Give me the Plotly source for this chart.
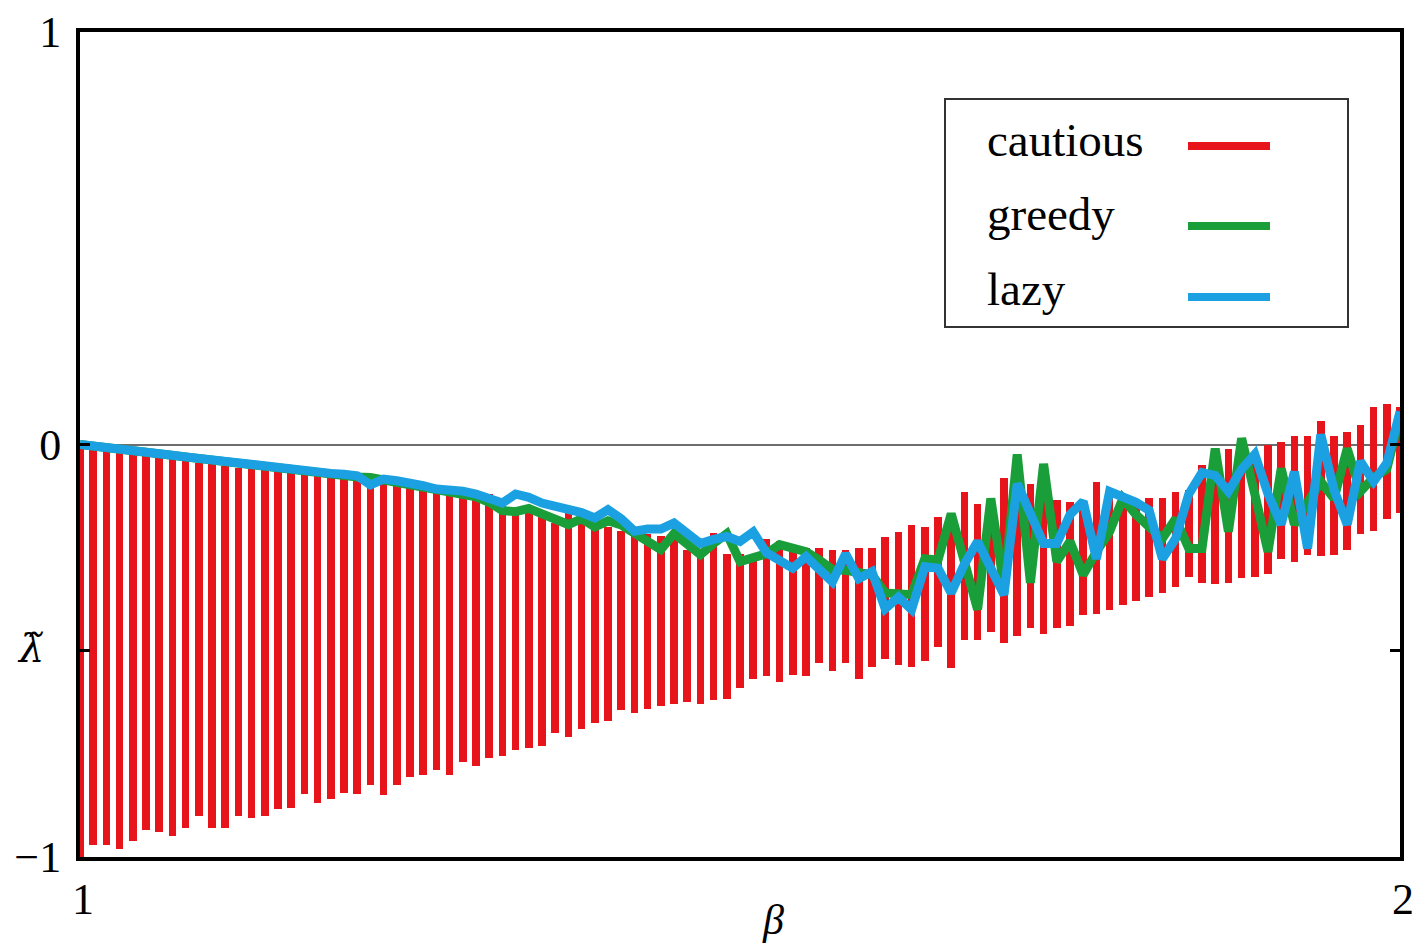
import plotly.graph_objects as go

# beta grid: 1.00 .. 2.00 step 0.01
beta = [round(1 + k / 100, 2) for k in range(101)]

# lazy (blue) line
lazy = [0.0, -0.003, -0.006, -0.010, -0.014, -0.018, -0.022, -0.026, -0.030, -0.034,
        -0.038, -0.042, -0.046, -0.050, -0.053, -0.057, -0.060, -0.064, -0.067, -0.070,
        -0.072, -0.076, -0.098, -0.084, -0.088, -0.092, -0.100, -0.108, -0.110, -0.113,
        -0.120, -0.130, -0.142, -0.120, -0.128, -0.142, -0.148, -0.156, -0.165, -0.178,
        -0.158, -0.180, -0.210, -0.205, -0.205, -0.190, -0.215, -0.240, -0.230, -0.223,
        -0.235, -0.212, -0.262, -0.280, -0.300, -0.272, -0.300, -0.333, -0.265, -0.325,
        -0.308, -0.398, -0.370, -0.400, -0.296, -0.300, -0.360, -0.290, -0.235, -0.300,
        -0.364, -0.095, -0.170, -0.240, -0.240, -0.170, -0.138, -0.277, -0.114, -0.125,
        -0.140, -0.160, -0.277, -0.228, -0.120, -0.068, -0.075, -0.114, -0.060, -0.024,
        -0.120, -0.194, -0.066, -0.252, 0.024, -0.110, -0.194, -0.041, -0.090, -0.045,
        0.080]

# greedy (green) line
greedy = [0.0, -0.004, -0.008, -0.012, -0.016, -0.020, -0.024, -0.028, -0.032, -0.036,
          -0.040, -0.044, -0.048, -0.052, -0.056, -0.060, -0.063, -0.066, -0.070, -0.073,
          -0.076, -0.079, -0.080, -0.086, -0.092, -0.096, -0.102, -0.108, -0.113, -0.120,
          -0.127, -0.140, -0.160, -0.163, -0.155, -0.168, -0.180, -0.194, -0.180, -0.200,
          -0.185, -0.195, -0.215, -0.235, -0.255, -0.216, -0.240, -0.267, -0.240, -0.216,
          -0.284, -0.277, -0.265, -0.243, -0.250, -0.260, -0.280, -0.303, -0.305, -0.310,
          -0.316, -0.360, -0.362, -0.364, -0.277, -0.280, -0.168, -0.290, -0.400, -0.131,
          -0.345, -0.024, -0.335, -0.047, -0.284, -0.235, -0.316, -0.260, -0.211, -0.131,
          -0.170, -0.200, -0.228, -0.180, -0.252, -0.252, -0.010, -0.211, 0.015, -0.120,
          -0.260, -0.058, -0.194, -0.140, -0.090, -0.131, -0.010, -0.114, -0.080, -0.060,
          0.072]

# cautious (red) : range of values in each column
cautious_top = [0.0, -0.012, -0.016, -0.020, -0.024, -0.028, -0.032, -0.036, -0.040, -0.044,
                -0.048, -0.052, -0.056, -0.060, -0.063, -0.067, -0.070, -0.074, -0.077, -0.080,
                -0.083, -0.087, -0.090, -0.094, -0.097, -0.100, -0.105, -0.110, -0.115, -0.118,
                -0.125, -0.120, -0.145, -0.155, -0.160, -0.170, -0.190, -0.165, -0.180, -0.200,
                -0.200, -0.210, -0.220, -0.218, -0.222, -0.228, -0.255, -0.265, -0.215, -0.265,
                -0.265, -0.280, -0.230, -0.235, -0.250, -0.250, -0.252, -0.255, -0.255, -0.250,
                -0.252, -0.225, -0.213, -0.195, -0.200, -0.175, -0.175, -0.115, -0.145, -0.155,
                -0.082, -0.130, -0.095, -0.130, -0.134, -0.140, -0.145, -0.090, -0.130, -0.138,
                -0.138, -0.130, -0.130, -0.114, -0.110, -0.049, -0.060, -0.012, -0.010, -0.030,
                0.000, 0.007, 0.020, 0.020, 0.056, 0.020, 0.030, 0.048, 0.092, 0.097,
                0.090]
cautious_bottom = [-1.000, -0.970, -0.970, -0.980, -0.960, -0.935, -0.940, -0.950, -0.930, -0.900,
                   -0.930, -0.930, -0.900, -0.905, -0.900, -0.883, -0.880, -0.847, -0.870, -0.860,
                   -0.845, -0.847, -0.825, -0.850, -0.825, -0.806, -0.800, -0.790, -0.800, -0.770,
                   -0.780, -0.760, -0.755, -0.740, -0.735, -0.730, -0.700, -0.710, -0.690, -0.675,
                   -0.670, -0.643, -0.650, -0.640, -0.633, -0.630, -0.625, -0.630, -0.620, -0.616,
                   -0.590, -0.568, -0.560, -0.575, -0.558, -0.560, -0.530, -0.550, -0.530, -0.568,
                   -0.540, -0.519, -0.535, -0.540, -0.525, -0.490, -0.543, -0.473, -0.473, -0.455,
                   -0.480, -0.465, -0.445, -0.460, -0.445, -0.440, -0.413, -0.410, -0.400, -0.390,
                   -0.380, -0.370, -0.360, -0.345, -0.320, -0.335, -0.337, -0.335, -0.323, -0.320,
                   -0.313, -0.277, -0.285, -0.267, -0.270, -0.268, -0.255, -0.218, -0.210, -0.180,
                   -0.167]

legend_names = ["cautious", "greedy", "lazy"]
RED, GREEN, BLUE = "#e8141c", "#1a9e3a", "#1ba1e2"
legend_colors = [RED, GREEN, BLUE]

x_ticks = [1, 2]
x_ticktext = ["1", "2"]
y_ticks = [-1, -0.5, 0, 1]
y_ticktext = ["\u22121", "", "0", "1"]

FONT = "Liberation Serif"

fig = go.Figure()
fig.add_trace(go.Bar(
    x=beta,
    y=[t - b for t, b in zip(cautious_top, cautious_bottom)],
    base=cautious_bottom,
    width=0.0058,
    marker=dict(color=RED, line=dict(width=0)),
    name="cautious",
    showlegend=False,
))
fig.add_trace(go.Scatter(x=beta, y=greedy, mode="lines", name="greedy",
                         line=dict(color=GREEN, width=9), showlegend=False))
fig.add_trace(go.Scatter(x=beta, y=lazy, mode="lines", name="lazy",
                         line=dict(color=BLUE, width=9), showlegend=False))

# the page body adds an 8px offset; compensate so the plot lands where the reference has it
OFF = 8
W, H = 1420 - OFF, 950 - OFF
L, R, T, B = 80 - OFF, 20, 32 - OFF, 93
pw, ph = W - L - R, H - T - B


def px(xs):
    """screen x (reference pixels) -> paper x"""
    return (xs - OFF - L) / pw


def py(ys):
    """screen y (reference pixels) -> paper y"""
    return (H - B - (ys - OFF)) / ph


fig.update_layout(
    width=W, height=H,
    margin=dict(l=L, r=R, t=T, b=B, autoexpand=False),
    paper_bgcolor="white", plot_bgcolor="white",
    font=dict(family=FONT, size=44, color="black"),
    bargap=0,
    xaxis=dict(range=[1, 2], tickvals=x_ticks, ticktext=x_ticktext, automargin=False,
               showgrid=False, zeroline=False, showline=True, linecolor="black",
               linewidth=4, mirror=True, ticks="", ticklabelstandoff=0, ticklabelshift=3,
               tickfont=dict(family=FONT, size=44)),
    yaxis=dict(range=[-1, 1], tickvals=y_ticks, ticktext=y_ticktext, automargin=False,
               showgrid=False, zeroline=True, zerolinecolor="#6e6e6e", zerolinewidth=2,
               showline=True, linecolor="black", linewidth=4, mirror="ticks",
               ticks="inside", ticklen=10, tickwidth=3, tickcolor="black",
               ticklabelstandoff=6, tickfont=dict(family=FONT, size=44)),
)

# axis titles
fig.add_annotation(text="<i>\u03b2</i>", xref="paper", yref="paper",
                   x=px(773), y=py(920), showarrow=False,
                   font=dict(family=FONT, size=42), xanchor="center", yanchor="middle")
fig.add_annotation(text="<i>\u03bb\u0303</i>", xref="paper", yref="paper",
                   x=px(30), y=py(648), showarrow=False,
                   font=dict(family="DejaVu Serif", size=40), xanchor="center", yanchor="middle")

# custom legend box (text left, line sample right)
fig.add_shape(type="rect", xref="paper", yref="paper",
              x0=px(945), x1=px(1348), y0=py(327), y1=py(99),
              line=dict(color="#333333", width=2), fillcolor="white", layer="above")
text_y = [140, 214, 289]
line_y = [146, 226, 297]
for name, col, ty, ly in zip(legend_names, legend_colors, text_y, line_y):
    fig.add_annotation(text=name, xref="paper", yref="paper", x=px(985), y=py(ty),
                       showarrow=False, xanchor="left", yanchor="middle",
                       font=dict(family=FONT, size=47, color="black"))
    fig.add_shape(type="line", xref="paper", yref="paper",
                  x0=px(1188), x1=px(1270), y0=py(ly), y1=py(ly),
                  line=dict(color=col, width=8), layer="above")

fig.write_html("out.html")
